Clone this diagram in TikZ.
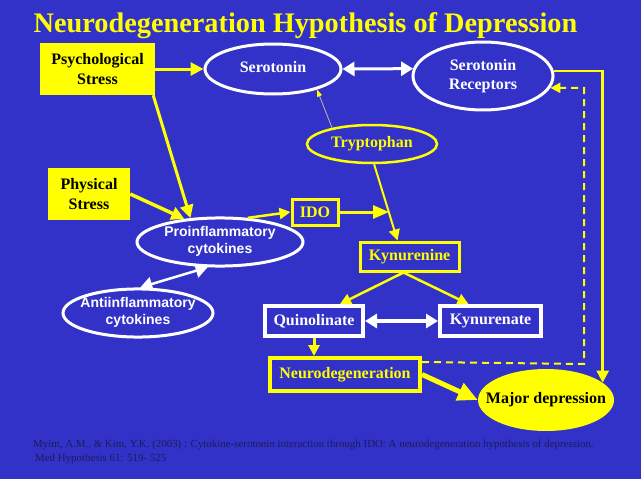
\documentclass[tikz,border=0pt]{standalone}
\usepackage{fontspec}
\setmainfont{Liberation Serif}
\newfontfamily\arialf{Liberation Sans}
\usetikzlibrary{arrows.meta,shapes.geometric,calc}
\definecolor{bg}{RGB}{50,50,200}
\definecolor{yel}{RGB}{255,255,0}
\definecolor{citec}{RGB}{28,28,90}
\definecolor{thinc}{RGB}{190,190,160}
\newcommand{\zw}[1]{\makebox[0pt]{\begin{tabular}{@{}c@{}}#1\end{tabular}}}
\begin{document}
\begin{tikzpicture}[x=1pt,y=-1pt,
  sfont/.style={font=\bfseries\fontsize{16}{19.5}\selectfont},
  filledbox/.style={rectangle,fill=yel,draw=none,text=black,sfont,align=center,inner sep=0pt},
  ybox/.style={rectangle,draw=yel,line width=3pt,text=yel,sfont,align=center,inner sep=0pt},
  wbox/.style={rectangle,draw=white,line width=4pt,text=white,sfont,align=center,inner sep=0pt},
  wellipse/.style={ellipse,draw=white,line width=3pt,text=white,sfont,inner sep=0pt},
  sellipse/.style={ellipse,draw=white,line width=3pt,text=white,inner sep=0pt,font=\arialf\bfseries\fontsize{14}{17}\selectfont},
  yellipse/.style={ellipse,draw=yel,line width=2.5pt,text=yel,sfont,inner sep=0pt},
  yarr/.style={draw=yel,line width=3pt,-{Triangle[length=13pt,width=13pt]}},
  ysmall/.style={draw=yel,line width=2.5pt,-{Triangle[length=11pt,width=11pt]}},
  warr/.style={draw=white,line width=3pt,{Triangle[length=12pt,width=14pt]}-{Triangle[length=12pt,width=14pt]}},
  ydash/.style={draw=yel,line width=2pt,dash pattern=on 7pt off 5pt,-{Triangle[length=10pt,width=10pt]}}
]
\fill[bg] (0,0) rectangle (641,479);
\useasboundingbox (0,0) rectangle (641,479);

\node[anchor=base,text=yel,font=\bfseries\fontsize{28.3}{30}\selectfont] (title) at (305.5,32) {Neurodegeneration Hypothesis of Depression};

\node[filledbox,minimum width=115pt,minimum height=52pt] (psych) at (97.5,69) {Psychological\\Stress};
\node[filledbox,minimum width=82pt,minimum height=52pt] (phys) at (89,194) {Physical\\Stress};
\node[wellipse,minimum width=136pt,minimum height=50pt] (sero) at (273,69) {\zw{Serotonin}};
\node[wellipse,minimum width=140pt,minimum height=68pt] (rec) at (483,76) {\zw{Serotonin\\Receptors}};
\node[yellipse,minimum width=130pt,minimum height=38pt] (tryp) at (372,144) {\zw{Tryptophan}};
\node[sellipse,minimum width=166pt,minimum height=42pt] (pro) at (220,242) {\zw{Proinflammatory\\cytokines}};
\node[sellipse,minimum width=150pt,minimum height=48pt] (anti) at (138,313) {\zw{Antiinflammatory\\cytokines}};
\node[ybox,minimum width=46pt,minimum height=26pt] (ido) at (315,212) {IDO};
\node[ybox,minimum width=99pt,minimum height=29pt] (kyn) at (409.5,256.5) {Kynurenine};
\node[wbox,minimum width=98pt,minimum height=30pt] (quin) at (314,321) {Quinolinate};
\node[wbox,minimum width=101pt,minimum height=30pt] (kyna) at (490.5,321) {Kynurenate};
\node[ybox,line width=4pt,minimum width=150pt,minimum height=33pt] (neuro) at (345,374.5) {Neurodegeneration};
\node[ellipse,fill=yel,draw=none,text=black,font=\bfseries\fontsize{16}{19}\selectfont,inner sep=0pt,minimum width=136pt,minimum height=62pt] (major) at (546,400) {\zw{Major depression}};

\node[anchor=base west,text=citec,align=left,inner sep=0pt,font=\fontsize{10.9}{14}\selectfont] (cite) at (33,461) {Myint, A.M., \& Kim, Y.K. (2003) : Cytokine-serotonin interaction through IDO: A neurodegeneration hypothesis of depression.\\\hspace{2pt}Med Hypothesis 61: 519- 525};

% connectors
\draw[yarr] (psych.east) -- (sero.west);
\draw[yarr] ($(psych.south east)+(-2,0)$) -- (pro.141);
\draw[yarr,line width=3.5pt] (phys.east) -- (pro.147);
\draw[ysmall] (pro.41) -- (ido.west);
\coordinate (idoend) at (389,212);
\draw[yarr,-{Triangle[length=16pt,width=13pt]}] (ido.east) -- (idoend);
\draw[ysmall,line width=2pt] (tryp.-84) -- ($(kyn.north)+(-12,0)$);
\draw[draw=thinc,line width=0.8pt,-{Triangle[length=7pt,width=5pt,color=yel,fill=yel]}] (tryp.158) -- (sero.-25);
\draw[warr] (sero.east) -- (rec.174);
\draw[warr,line width=2.5pt] (pro.244) -- (anti.85);
\coordinate (kfork) at ($(kyn.south)+(-6,0)$);
\draw[ysmall] (kfork) -- ($(quin.north)+(26,0)$);
\draw[ysmall] (kfork) -- ($(kyna.north)+(-22,0)$);
\draw[warr,line width=4pt] (quin.east) -- (kyna.west);
\draw[ysmall,line width=3pt] (quin.south) -- (quin.south |- neuro.north);
\draw[draw=yel,line width=5pt,-{Triangle[length=20pt,width=18pt]}] (neuro.east) -- (major.west);
\draw[ysmall,line width=2.5pt,-{Triangle[length=12pt,width=12pt]}] (rec.4) -| (major.17);
\coordinate (dcorner) at (584,364);
\draw[ydash] ($(neuro.north east)+(0,6)$) -- (dcorner) |- (rec.-10);
\end{tikzpicture}
\end{document}
